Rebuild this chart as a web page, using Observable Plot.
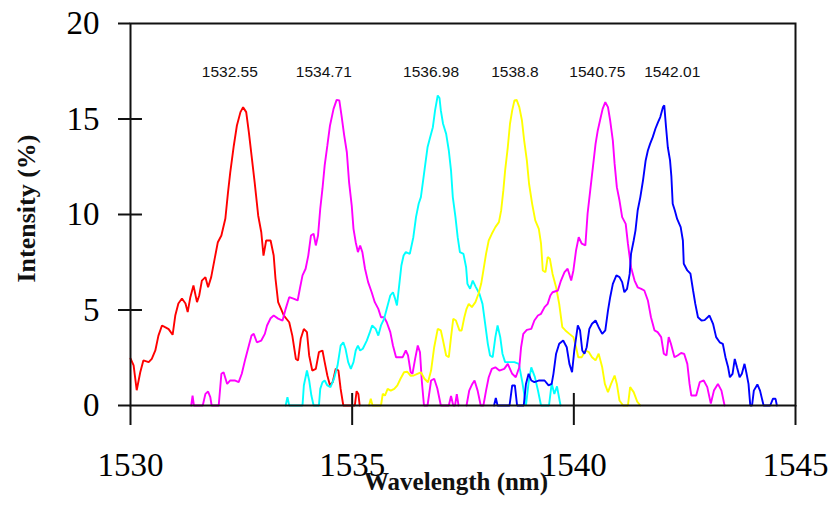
<!DOCTYPE html>
<html>
<head>
<meta charset="utf-8">
<script src="https://cdn.jsdelivr.net/npm/d3@7"></script>
<script src="https://cdn.jsdelivr.net/npm/@observablehq/plot@0.6"></script>
<style>
  html, body { margin: 0; padding: 0; background: #fff; }
</style>
</head>
<body>
<div id="chart"></div>
<script>
// ---- data (wavelength nm, intensity %) ----
const red = [
  [1530.00,2.46],[1530.07,2.10],[1530.14,0.80],[1530.22,1.74],[1530.29,2.36],[1530.41,2.27],[1530.48,2.44],
  [1530.56,2.88],[1530.63,3.66],[1530.71,4.19],[1530.78,4.10],[1530.86,4.00],[1530.95,3.70],[1531.01,4.71],
  [1531.08,5.34],[1531.16,5.60],[1531.24,5.34],[1531.29,4.89],[1531.35,5.67],[1531.42,6.28],[1531.50,5.41],
  [1531.55,5.76],[1531.61,6.54],[1531.69,6.72],[1531.75,6.19],[1531.82,6.72],[1531.90,7.70],[1531.97,8.55],
  [1532.05,8.90],[1532.14,9.79],[1532.20,11.17],[1532.25,12.20],[1532.33,13.60],[1532.40,14.66],[1532.48,15.36],
  [1532.54,15.62],[1532.61,15.36],[1532.67,14.30],[1532.73,13.10],[1532.80,11.70],[1532.88,9.95],[1532.95,9.07],
  [1533.00,7.85],[1533.06,8.64],[1533.16,8.64],[1533.23,7.85],[1533.27,6.65],[1533.33,5.41],[1533.46,4.71],
  [1533.58,4.36],[1533.65,3.66],[1533.73,2.44],[1533.78,2.36],[1533.84,3.49],[1533.91,4.01],[1533.98,3.84],
  [1534.03,2.62],[1534.10,1.83],[1534.18,1.92],[1534.25,2.79],[1534.33,2.88],[1534.38,2.27],[1534.44,1.57],
  [1534.50,1.05],[1534.56,1.22],[1534.63,1.92],[1534.69,1.83],[1534.74,0.87],[1534.80,0],[1535.06,0],
  [1535.10,0.75],[1535.14,0.60],[1535.17,0]
];
const magenta1 = [
  [1531.37,0],[1531.40,0.52],[1531.43,0],[1531.63,0],[1531.69,0.61],[1531.75,0.73],[1531.80,0.44],[1531.83,0],
  [1531.99,0],[1532.05,1.66],[1532.10,1.74],[1532.18,1.13],[1532.25,1.31],[1532.35,1.31],[1532.44,1.22],
  [1532.51,1.66],[1532.59,2.44],[1532.67,3.14],[1532.73,3.66],[1532.78,3.75],[1532.85,3.31],[1532.95,3.40],
  [1533.03,3.75],[1533.08,4.19],[1533.16,4.57],[1533.23,4.71],[1533.33,4.55],[1533.43,4.45],[1533.50,5.06],
  [1533.58,5.67],[1533.69,5.58],[1533.77,5.50],[1533.82,6.11],[1533.88,6.81],[1533.95,7.16],[1534.01,7.85],
  [1534.07,8.90],[1534.13,8.99],[1534.18,8.38],[1534.23,8.90],[1534.28,10.30],[1534.33,11.35],[1534.38,12.57],
  [1534.44,13.60],[1534.50,14.66],[1534.58,15.53],[1534.65,16.00],[1534.71,15.97],[1534.76,15.18],[1534.82,14.14],
  [1534.88,13.26],[1534.93,11.70],[1534.99,10.47],[1535.03,9.25],[1535.08,8.55],[1535.13,8.03],[1535.18,8.38],
  [1535.23,8.03],[1535.29,7.16],[1535.36,6.46],[1535.44,5.93],[1535.51,5.41],[1535.59,5.06],[1535.65,4.62],
  [1535.72,4.62],[1535.78,4.36],[1535.86,3.84],[1535.92,3.14],[1535.99,2.53],[1536.06,2.53],[1536.14,2.53],
  [1536.21,2.88],[1536.26,2.62],[1536.32,1.74],[1536.36,1.66],[1536.42,2.44],[1536.48,3.14],[1536.53,2.79],
  [1536.57,1.31],[1536.62,0],[1536.70,0],[1536.78,1.31],[1536.85,1.40],[1536.92,0.90],[1537.00,0],[1537.18,0],
  [1537.23,0.50],[1537.28,0],[1537.32,0],[1537.36,0.60],[1537.40,0]
];
const cyan = [
  [1533.50,0],[1533.54,0.44],[1533.58,0],[1533.88,0],[1533.91,1.05],[1533.98,1.83],[1534.03,1.31],[1534.08,0.52],
  [1534.13,0],[1534.25,0],[1534.28,0.87],[1534.33,1.22],[1534.38,1.31],[1534.44,1.05],[1534.51,0.96],[1534.59,1.40],
  [1534.67,2.09],[1534.74,3.14],[1534.80,3.31],[1534.85,2.97],[1534.91,2.27],[1534.97,1.92],[1535.03,2.27],
  [1535.08,2.88],[1535.13,3.14],[1535.18,2.88],[1535.24,2.97],[1535.33,3.40],[1535.40,3.84],[1535.45,4.19],
  [1535.53,4.01],[1535.59,3.66],[1535.65,4.19],[1535.72,4.54],[1535.80,5.24],[1535.86,5.76],[1535.92,5.93],
  [1535.97,5.58],[1536.01,5.24],[1536.06,6.28],[1536.11,7.33],[1536.16,7.85],[1536.21,8.03],[1536.30,7.94],
  [1536.38,8.81],[1536.44,9.86],[1536.50,10.56],[1536.55,10.91],[1536.60,11.78],[1536.65,12.65],[1536.70,13.52],
  [1536.75,13.96],[1536.82,14.57],[1536.87,15.45],[1536.93,16.23],[1536.97,16.10],[1537.00,15.45],[1537.05,14.75],
  [1537.12,14.22],[1537.18,13.35],[1537.23,12.30],[1537.27,10.91],[1537.33,9.86],[1537.38,8.81],[1537.43,8.03],
  [1537.51,7.94],[1537.57,7.24],[1537.60,6.37],[1537.66,6.11],[1537.72,6.54],[1537.79,6.20],[1537.87,5.85],
  [1537.94,5.32],[1538.00,4.28],[1538.06,3.23],[1538.11,2.62],[1538.17,2.53],[1538.23,3.58],[1538.28,4.19],
  [1538.34,3.58],[1538.39,2.71],[1538.45,2.27],[1538.54,2.27],[1538.66,2.27],[1538.76,2.18],[1538.84,1.20],
  [1538.92,0],[1538.98,1.20],[1539.04,2.00],[1539.12,1.50],[1539.19,0.80],[1539.26,0],[1539.44,0],[1539.50,1.15],
  [1539.56,0.60],[1539.62,1.00],[1539.70,0]
];
const yellow = [
  [1535.38,0],[1535.42,0.35],[1535.46,0],[1535.65,0],[1535.69,0.61],[1535.74,0.52],[1535.80,0.87],[1535.87,0.78],
  [1535.95,0.87],[1536.02,1.05],[1536.09,1.40],[1536.17,1.74],[1536.24,1.77],[1536.32,1.55],[1536.39,1.57],
  [1536.47,1.66],[1536.55,1.74],[1536.63,1.40],[1536.71,1.22],[1536.78,1.83],[1536.85,3.05],[1536.93,4.01],
  [1537.00,3.93],[1537.05,3.40],[1537.12,2.62],[1537.18,2.53],[1537.23,3.58],[1537.28,4.54],[1537.34,4.45],
  [1537.42,3.93],[1537.47,3.93],[1537.53,4.62],[1537.58,5.06],[1537.63,5.32],[1537.70,5.15],[1537.78,5.41],
  [1537.85,5.85],[1537.91,6.37],[1537.96,7.07],[1538.02,7.94],[1538.08,8.64],[1538.15,8.99],[1538.23,9.34],
  [1538.31,9.60],[1538.36,10.20],[1538.41,11.26],[1538.45,12.30],[1538.51,13.52],[1538.56,14.75],[1538.61,15.45],
  [1538.66,15.97],[1538.71,16.00],[1538.77,15.62],[1538.83,14.92],[1538.88,13.87],[1538.94,12.83],[1538.99,11.61],
  [1539.06,10.56],[1539.13,9.69],[1539.21,9.25],[1539.26,8.47],[1539.30,7.07],[1539.36,6.98],[1539.41,7.77],
  [1539.46,7.68],[1539.52,6.89],[1539.60,6.19],[1539.67,5.32],[1539.74,4.10],[1539.81,3.93],[1539.90,3.75],
  [1539.99,3.58],[1540.05,3.05],[1540.10,2.53],[1540.18,2.53],[1540.26,2.88],[1540.34,2.79],[1540.41,2.53],
  [1540.49,2.36],[1540.56,2.71],[1540.64,2.00],[1540.70,1.13],[1540.77,0.70],[1540.84,1.13],[1540.92,1.57],
  [1540.97,1.13],[1541.03,0.26],[1541.11,0],[1541.22,0],[1541.27,0.96],[1541.35,0.70],[1541.43,0.20],[1541.50,0]
];
const magenta2 = [
  [1537.58,0],[1537.64,0.78],[1537.71,1.13],[1537.76,1.31],[1537.83,0.78],[1537.90,0],[1537.96,0],[1538.02,0.78],
  [1538.08,1.48],[1538.15,1.92],[1538.23,2.00],[1538.32,1.83],[1538.43,1.92],[1538.51,2.18],[1538.61,1.66],
  [1538.69,1.48],[1538.77,2.00],[1538.81,3.05],[1538.86,3.75],[1538.94,3.96],[1539.04,4.01],[1539.11,4.45],
  [1539.19,4.71],[1539.26,4.80],[1539.34,5.15],[1539.41,5.32],[1539.47,5.76],[1539.52,5.93],[1539.64,6.02],
  [1539.71,6.54],[1539.79,6.98],[1539.86,7.16],[1539.94,6.54],[1539.99,7.07],[1540.05,8.12],[1540.11,8.81],
  [1540.18,8.47],[1540.26,8.38],[1540.31,10.04],[1540.37,11.26],[1540.43,12.48],[1540.49,13.70],[1540.54,14.40],
  [1540.59,14.92],[1540.65,15.53],[1540.71,15.88],[1540.77,15.62],[1540.82,14.92],[1540.88,13.87],[1540.92,12.65],
  [1540.97,11.43],[1541.03,10.73],[1541.09,9.86],[1541.17,9.51],[1541.22,8.47],[1541.29,7.24],[1541.37,6.54],
  [1541.44,6.19],[1541.52,6.11],[1541.59,6.02],[1541.67,5.50],[1541.74,4.62],[1541.82,3.93],[1541.89,3.84],
  [1541.97,3.58],[1542.03,2.71],[1542.09,2.62],[1542.14,3.58],[1542.19,3.23],[1542.27,2.53],[1542.34,2.62],
  [1542.42,2.75],[1542.49,2.70],[1542.56,2.18],[1542.61,1.13],[1542.65,0.52],[1542.76,0.52],[1542.84,1.22],
  [1542.93,1.31],[1543.01,0.96],[1543.09,0.10],[1543.16,0.78],[1543.25,1.13],[1543.33,0.78],[1543.40,0]
];
const blue = [
  [1538.20,0],[1538.24,0.40],[1538.28,0],[1538.55,0],[1538.61,1.05],[1538.67,1.05],[1538.72,0],[1538.87,0],
  [1538.92,1.13],[1538.98,1.66],[1539.04,1.31],[1539.11,1.22],[1539.22,1.31],[1539.34,1.31],[1539.43,1.05],
  [1539.50,1.13],[1539.54,1.66],[1539.60,2.71],[1539.67,3.23],[1539.76,3.40],[1539.84,3.05],[1539.90,2.18],
  [1539.96,1.74],[1540.01,2.88],[1540.09,4.19],[1540.14,3.93],[1540.19,2.88],[1540.24,2.71],[1540.29,3.05],
  [1540.35,4.01],[1540.41,4.28],[1540.49,4.45],[1540.56,4.10],[1540.64,3.75],[1540.71,3.93],[1540.77,4.97],
  [1540.82,5.67],[1540.88,6.37],[1540.96,6.81],[1541.03,6.72],[1541.09,6.46],[1541.14,5.93],[1541.20,6.11],
  [1541.26,6.89],[1541.29,7.94],[1541.35,8.64],[1541.39,9.16],[1541.44,10.21],[1541.50,10.91],[1541.56,11.78],
  [1541.62,12.83],[1541.67,13.35],[1541.72,13.70],[1541.78,14.05],[1541.84,14.49],[1541.90,14.84],[1541.95,15.10],
  [1542.01,15.62],[1542.04,15.71],[1542.08,14.57],[1542.12,13.52],[1542.17,12.83],[1542.20,12.00],[1542.23,10.56],
  [1542.28,10.20],[1542.33,9.77],[1542.41,9.34],[1542.46,8.64],[1542.48,7.42],[1542.56,7.07],[1542.63,6.90],
  [1542.69,6.02],[1542.74,5.32],[1542.80,4.62],[1542.88,4.45],[1542.95,4.47],[1543.06,4.71],[1543.14,4.28],
  [1543.21,3.58],[1543.29,3.31],[1543.36,3.23],[1543.42,2.53],[1543.48,2.00],[1543.52,1.48],[1543.58,1.66],
  [1543.63,2.44],[1543.68,2.00],[1543.74,1.48],[1543.79,1.66],[1543.85,2.18],[1543.89,1.74],[1543.94,1.13],
  [1543.98,0],[1544.02,0],[1544.06,0.78],[1544.14,1.10],[1544.20,0.78],[1544.28,0],[1544.43,0],[1544.49,0.35],
  [1544.55,0.35],[1544.58,0]
];

const seriesColors = ["#ff0000", "#ff00ff", "#00ffff", "#ffff00", "#ff00ff", "#0000ff"];
const peakLabels = ["1532.55", "1534.71", "1536.98", "1538.8", "1540.75", "1542.01"];
const peakLabelX = [1532.24, 1534.36, 1536.78, 1538.67, 1540.53, 1542.22];
const peakLabelY = 17.45;
const xTicks = [1530, 1535, 1540, 1545];
const yTicks = [0, 5, 10, 15, 20];
const xTitle = "Wavelength (nm)";
const yTitle = "Intensity (%)";

const allSeries = [red, magenta1, cyan, yellow, magenta2, blue];

const chart = Plot.plot({
  width: 829,
  height: 508,
  marginLeft: 130,
  marginRight: 34,
  marginTop: 23,
  marginBottom: 103,
  style: { background: "white", color: "black", fontFamily: "'Liberation Serif', 'Times New Roman', serif" },
  x: { domain: [1530, 1545] },
  y: { domain: [0, 20] },
  marks: [
    ...allSeries.map((s, i) => Plot.line(s, {
      x: d => d[0], y: d => d[1],
      stroke: seriesColors[i], strokeWidth: 1.9, strokeLinejoin: "miter"
    })),
    Plot.frame({ stroke: "#111", strokeWidth: 2 }),
    Plot.axisY(yTicks, {
      tickSize: 12, tickPadding: 19, fontSize: 33, label: null,
      stroke: "#111", strokeWidth: 2, tickFormat: d => String(d)
    }),
    Plot.ruleY(yTicks.filter(d => d > 0 && d < 20), { x1: 1530, x2: 1530.27, stroke: "#111", strokeWidth: 2 }),
    Plot.axisX(xTicks, {
      tickSize: 20, tickPadding: 27, fontSize: 33, label: null,
      stroke: "#111", strokeWidth: 2, tickFormat: d => String(d)
    }),
    Plot.ruleX(xTicks.filter(d => d > 1530 && d < 1545), { y1: 0, y2: 0.63, stroke: "#111", strokeWidth: 2 }),
    Plot.text(peakLabels, {
      x: (d, i) => peakLabelX[i], y: peakLabelY, text: d => d,
      fontSize: 15.5, fill: "#111",
      fontFamily: "'Liberation Sans Narrow', 'Liberation Sans', sans-serif"
    }),
    Plot.text([xTitle], {
      frameAnchor: "bottom", textAnchor: "middle", dx: -7, dy: 84, text: d => d,
      fontSize: 25, fontWeight: "bold", fill: "#111"
    }),
    Plot.text([yTitle], {
      frameAnchor: "left", textAnchor: "middle", rotate: -90, dx: -104, dy: -6, text: d => d,
      fontSize: 26, fontWeight: "bold", fill: "#111"
    })
  ]
});

document.getElementById("chart").appendChild(chart);
</script>
</body>
</html>
